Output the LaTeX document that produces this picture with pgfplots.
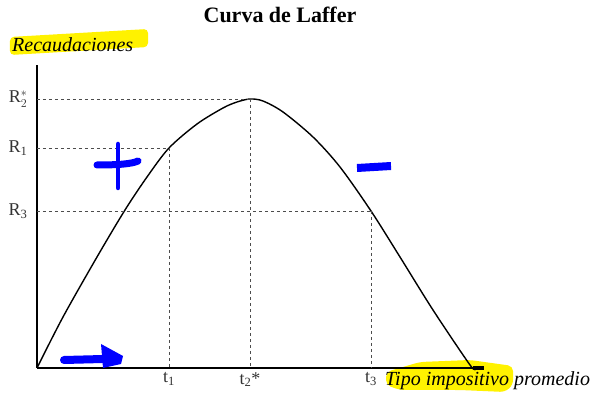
\documentclass[border=0pt]{standalone}
\usepackage{pgfplots}
\pgfplotsset{compat=1.18}
\usepackage{fontspec}
\setmainfont{Liberation Serif}
\begin{document}
\begin{tikzpicture}[x=1pt, y=1pt]
% highlights (behind)
\fill[yellow, rounded corners=4pt] (-27,331) -- (111,339) -- (111,321) -- (-27,313) -- cycle;
\fill[yellow, rounded corners=5pt] (349,-4) -- (383,6) -- (433,8) -- (476,2) -- (476,-17) -- (468,-24) -- (423,-22) -- (363,-22) -- (349,-17) -- cycle;
\begin{axis}[
  anchor=origin, at={(0,0)},
  x=1pt, y=1pt,
  xmin=0, xmax=447, ymin=0, ymax=303,
  axis x line=bottom, axis y line=left,
  axis line style={line width=1.6pt, -},
  xtick={132,213,334},
  xticklabels={t\textsubscript{1}, t\textsubscript{2}*, t\textsubscript{3}},
  ytick={157,220,269},
  yticklabels={R\textsubscript{3}, R\textsubscript{1}, R$^{*}_{2}$},
  major tick length=0pt,
  tick label style={font=\fontsize{18}{18}\selectfont, text=black!80},
  xticklabel style={yshift=-1pt},
  yticklabel style={xshift=-6pt},
  clip=false,
]
\addplot[black, line width=1.4pt, smooth, tension=0.5] coordinates {
(0,0) (26,51) (60,111) (88,158) (110,191) (132,220) (160,244) (186,260) (200,266) (213,269) (226,267) (246,256) (276,231) (303,201) (334,157) (363,111) (396,58) (433,3) (438,0)
};
\addplot[gray!60!black, dashed, line width=0.8pt] coordinates {(0,269) (213,269)};
\addplot[gray!60!black, dashed, line width=0.8pt] coordinates {(213,269) (213,0)};
\addplot[gray!60!black, dashed, line width=0.8pt] coordinates {(0,220) (132,220)};
\addplot[gray!60!black, dashed, line width=0.8pt] coordinates {(132,220) (132,0)};
\addplot[gray!60!black, dashed, line width=0.8pt] coordinates {(0,157) (334,157)};
\addplot[gray!60!black, dashed, line width=0.8pt] coordinates {(334,157) (334,0)};
\addplot[black, line width=3.5pt] coordinates {(436,0) (447,0)};
\end{axis}
\node[font=\bfseries\fontsize{22}{22}\selectfont] at (243,353) {Curva de Laffer};
\node[anchor=base west, inner sep=0pt, font=\itshape\fontsize{20}{20}\selectfont] at (-25,316) {Recaudaciones};
\node[anchor=base west, inner sep=0pt, font=\itshape\fontsize{20}{20}\selectfont] at (348,-18) {Tipo impositivo promedio};
% blue hand marks
\draw[blue, line width=7pt, line cap=round] (60,203) .. controls (80,203) and (95,204) .. (101,207);
\draw[blue, line width=4.5pt, line cap=round] (81,224) -- (81,180);
\draw[blue, line width=8pt] (320,200) -- (354,202);
\draw[blue, line width=8pt, line cap=round] (27,8) -- (66,9);
\fill[blue] (64,24) -- (86,12) -- (84,4) -- (66,0) -- cycle;
\path[use as bounding box] (-37,-31) rectangle (558,368);
\end{tikzpicture}
\end{document}
